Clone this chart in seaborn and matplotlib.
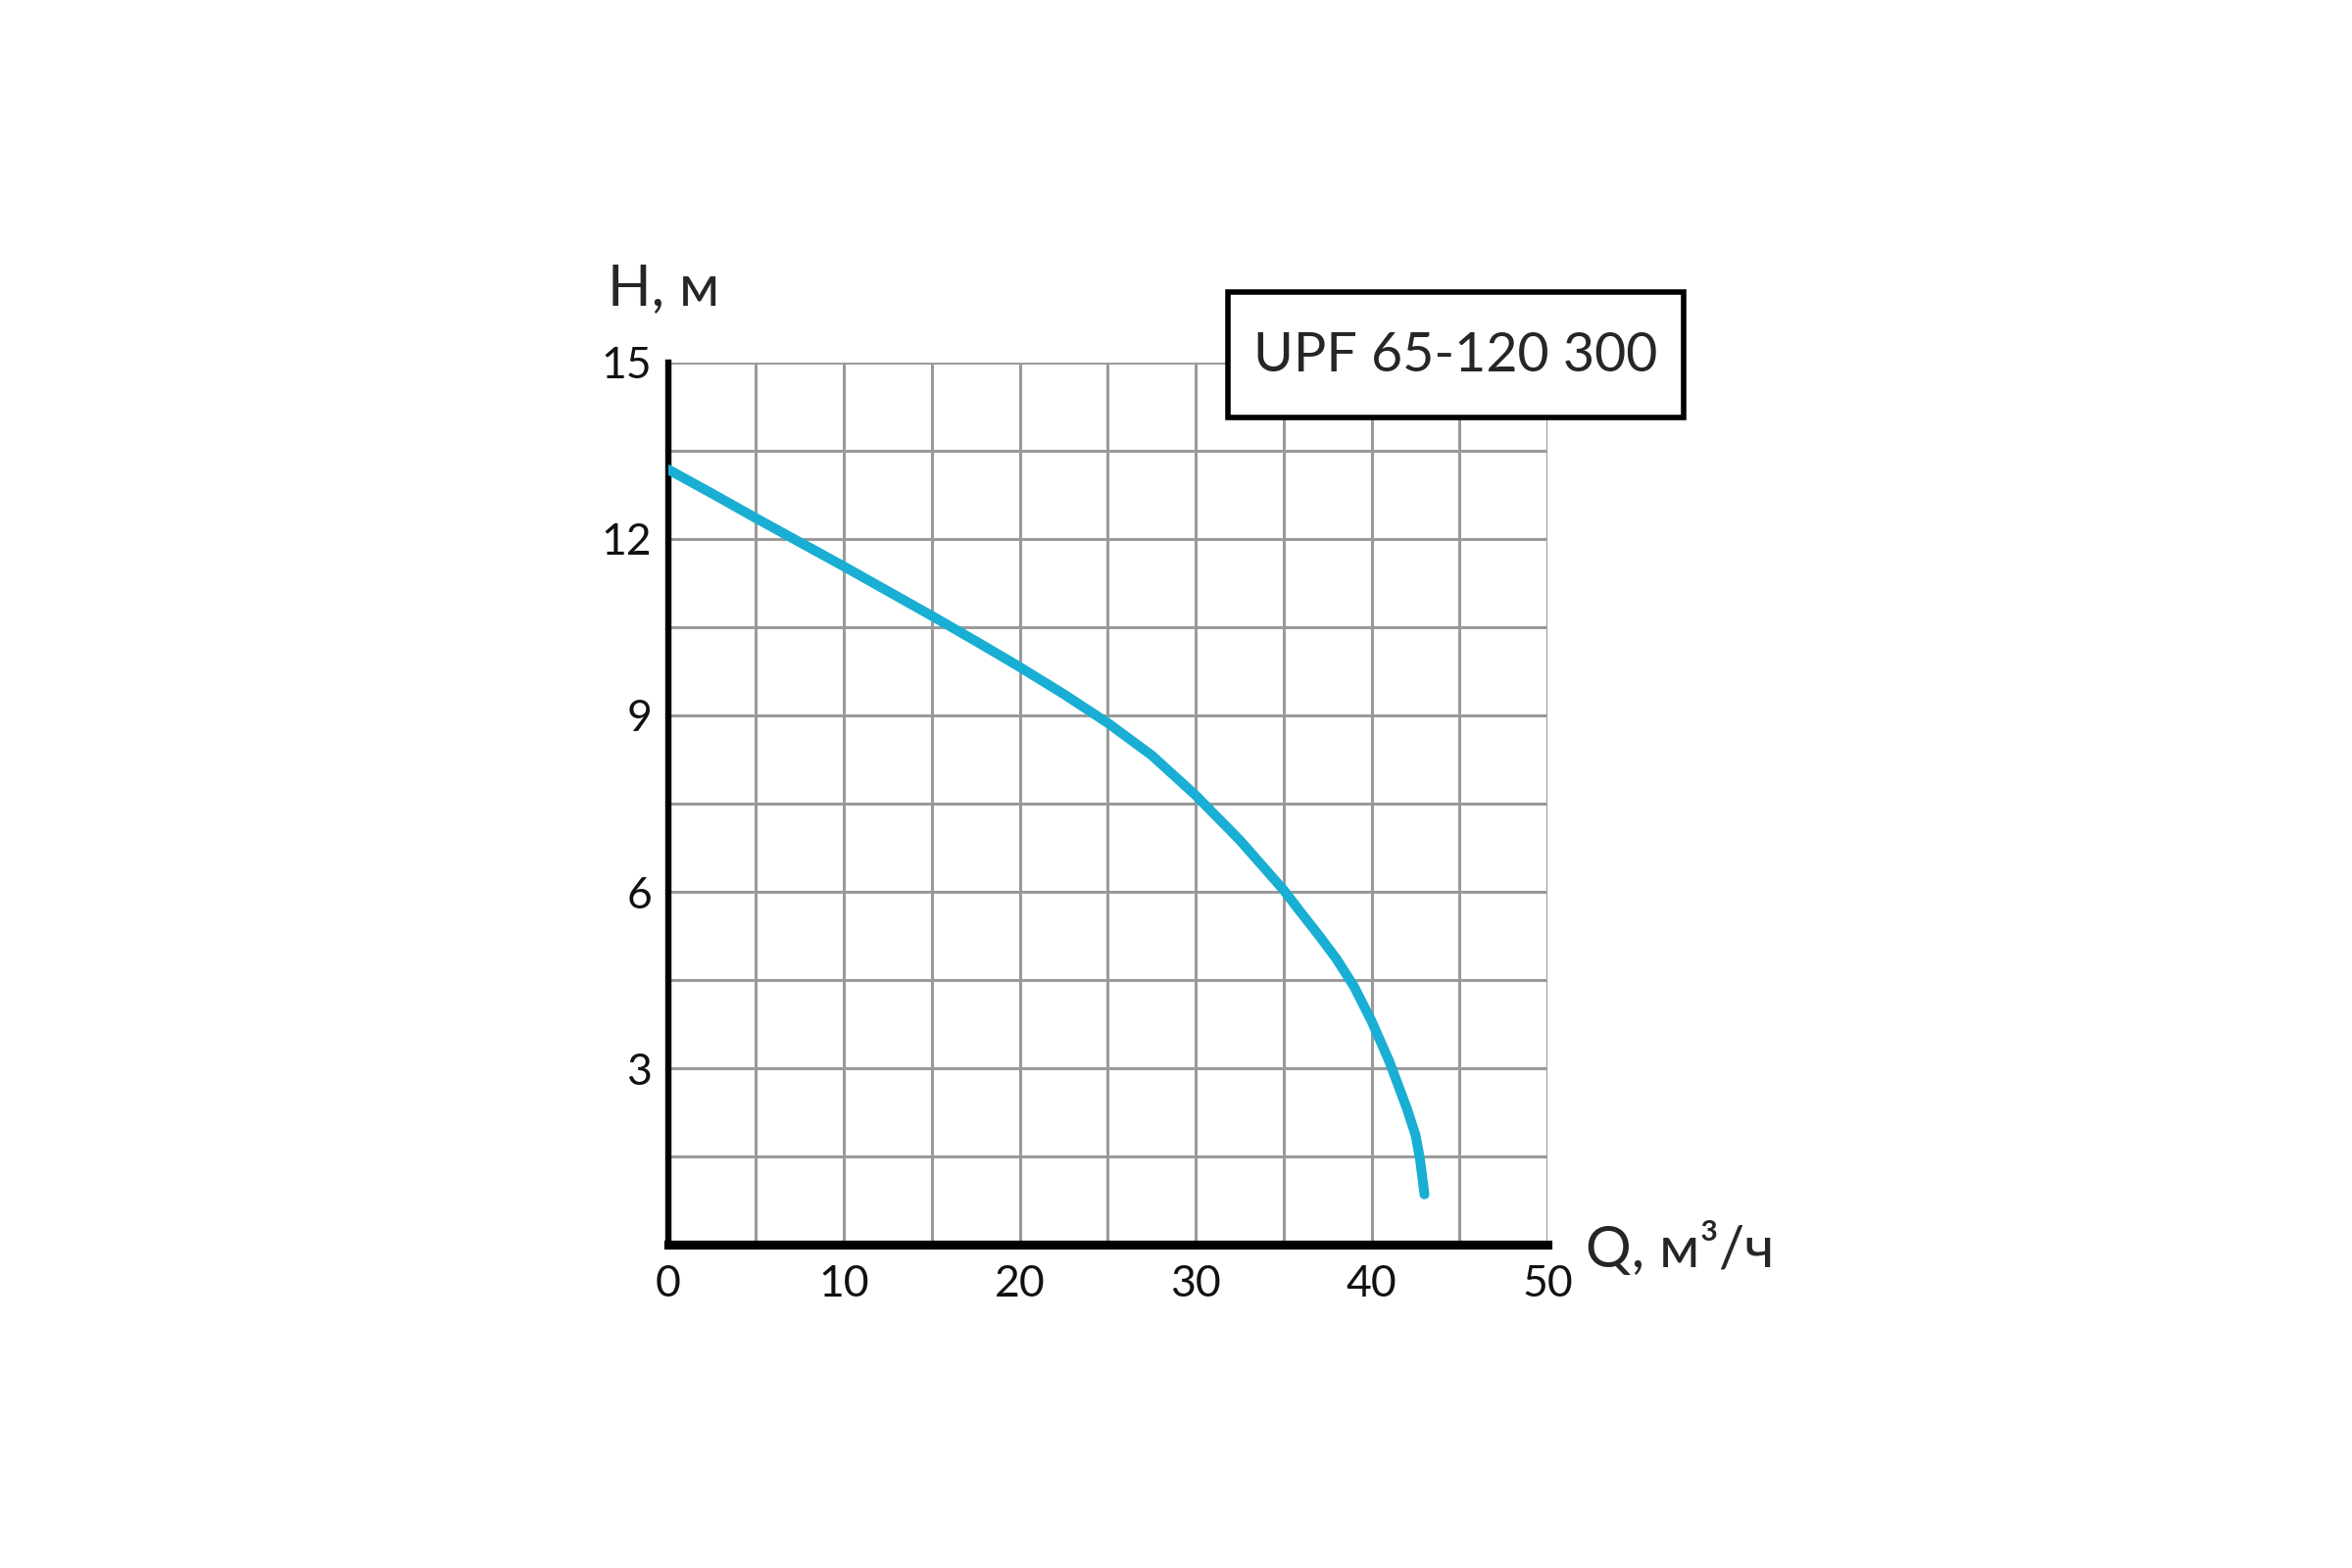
import numpy as np
import pandas as pd
import seaborn as sns
import matplotlib.pyplot as plt
from matplotlib.ticker import MultipleLocator, FixedLocator
from matplotlib.patches import Rectangle

# pump curve
flow = [0, 2.5, 5, 7.5, 10, 12.5, 15, 17.5, 20, 22.5, 25, 27.5, 30, 32.5, 35,
        36, 37, 38, 39, 40, 41, 42, 42.5, 42.75, 43]
head = [13.18, 12.77, 12.35, 11.94, 11.53, 11.11, 10.69, 10.26, 9.82, 9.36, 8.87,
        8.32, 7.64, 6.88, 6.03, 5.64, 5.26, 4.86, 4.39, 3.8, 3.12, 2.32, 1.86, 1.45, 0.86]
model = "UPF 65-120 300"
x_label = "Q, м³/ч"
y_label = "H, м"
x_ticks = [0, 10, 20, 30, 40, 50]
y_ticks = [3, 6, 9, 12, 15]

df = pd.DataFrame({"Q": flow, "H": head})

sns.set_style("white")
plt.rcParams["font.family"] = ["Lato", "DejaVu Sans"]

fig = plt.figure(figsize=(12, 8), dpi=200)
ax = fig.add_axes([0.284, 0.206, 0.374, 0.563])

sns.lineplot(data=df, x="Q", y="H", ax=ax, color="#19aed3", linewidth=3.6,
             solid_capstyle="round", solid_joinstyle="round", zorder=3)

ax.set_xlim(0, 50)
ax.set_ylim(0, 15)
ax.xaxis.set_major_locator(FixedLocator(x_ticks))
ax.xaxis.set_minor_locator(MultipleLocator(5))
ax.yaxis.set_major_locator(FixedLocator(y_ticks))
ax.yaxis.set_minor_locator(MultipleLocator(1.5))
ax.grid(which="both", color="#9a9a9a", linewidth=1.1)
ax.set_axisbelow(True)
ax.tick_params(which="both", length=0, labelsize=16, colors="#111111")
ax.tick_params(axis="x", pad=7)
ax.tick_params(axis="y", pad=6)
ax.set_xlabel("")
ax.set_ylabel("")

for side in ["top", "right"]:
    ax.spines[side].set_visible(False)
ax.spines["left"].set_linewidth(2.3)
ax.spines["bottom"].set_linewidth(3.3)
ax.spines["left"].set_color("black")
ax.spines["bottom"].set_color("black")

fig.text(0.282, 0.816, y_label, fontsize=21, ha="center", va="center")
fig.text(0.674, 0.203, x_label, fontsize=21, ha="left", va="center")

box = Rectangle((0.522, 0.734), 0.194, 0.080, transform=fig.transFigure,
                facecolor="white", edgecolor="black", linewidth=2, zorder=5)
fig.add_artist(box)
fig.text(0.619, 0.773, model, fontsize=20, ha="center", va="center", zorder=6)

fig.savefig("out.png", dpi=200, facecolor="white")
